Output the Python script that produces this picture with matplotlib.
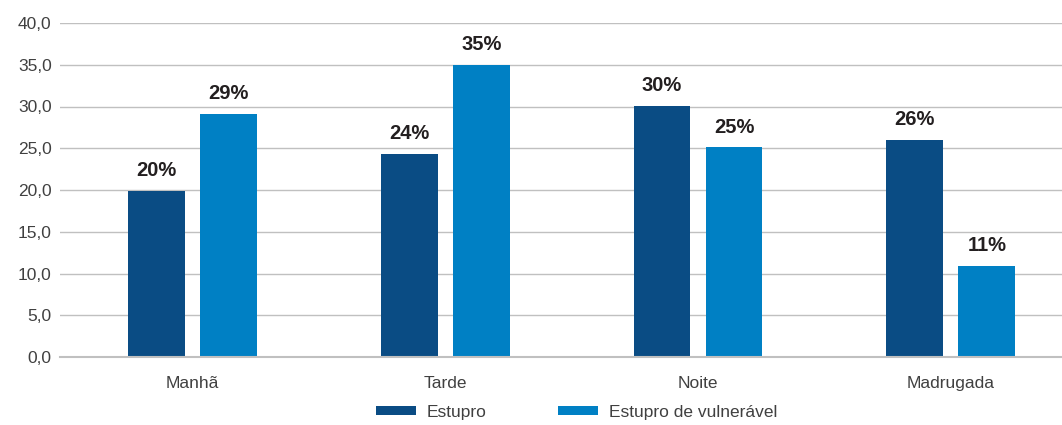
import matplotlib
matplotlib.use("Agg")
import matplotlib.pyplot as plt
import numpy as np

# data
periodos = ["Manhã", "Tarde", "Noite", "Madrugada"]
estupro = [19.9, 24.3, 30.1, 26.0]
vulneravel = [29.1, 35.0, 25.1, 10.9]
series_names = ["Estupro", "Estupro de vulnerável"]
y_ticks = [0, 5, 10, 15, 20, 25, 30, 35, 40]

dark = "#0a4c84"
light = "#0080c4"

plt.rcParams["font.family"] = ["Liberation Sans", "DejaVu Sans"]

fig = plt.figure(figsize=(10.62, 4.25), dpi=100)
ax = fig.add_axes([60 / 1062, 68 / 425, 1 - 60 / 1062, (357 - 23) / 425])

x = np.arange(len(periodos))
w = 0.225
off = 0.1425
b1 = ax.bar(x - off, estupro, w, color=dark, label=series_names[0], zorder=3)
b2 = ax.bar(x + off, vulneravel, w, color=light, label=series_names[1], zorder=3)

for bars, vals in ((b1, estupro), (b2, vulneravel)):
    for r, v in zip(bars, vals):
        ax.text(r.get_x() + r.get_width() / 2, v + 1.3, f"{v:.0f}%",
                ha="center", va="bottom", fontsize=14.5, fontweight="bold",
                color="#231f20")

ax.set_ylim(0, 40)
ax.set_xlim(-0.524, 3.44)
ax.set_yticks(y_ticks)
ax.set_yticklabels([f"{t:.1f}".replace(".", ",") for t in y_ticks])
ax.set_xticks(x)
ax.set_xticklabels(periodos)
ax.tick_params(axis="both", length=0, labelsize=12.5, colors="#404040")
ax.tick_params(axis="x", pad=14)
ax.tick_params(axis="y", pad=6)
ax.grid(axis="y", color="#c0c0c0", linewidth=1.0, zorder=0)
for s in ax.spines.values():
    s.set_visible(False)
ax.spines["bottom"].set_visible(True)
ax.spines["bottom"].set_color("#c0c0c0")
ax.spines["bottom"].set_linewidth(1.5)
ax.spines["bottom"].set_zorder(4)

fig.legend(handles=[b1, b2], labels=series_names, loc="lower center",
           bbox_to_anchor=(0.543, -0.025), ncol=2, frameon=False, fontsize=12.5,
           handlelength=2.3, handleheight=0.4, columnspacing=4.15,
           handletextpad=0.6, labelcolor="#404040")

fig.savefig("out.png", dpi=100)
